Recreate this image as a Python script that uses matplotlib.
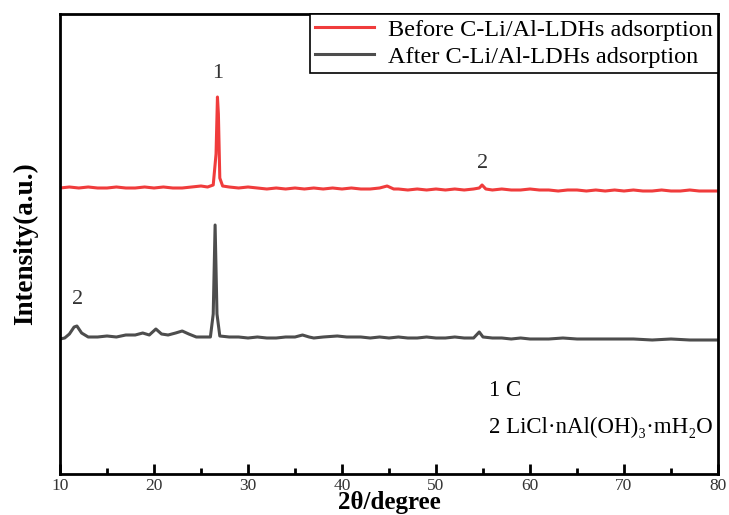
import matplotlib.pyplot as plt
from matplotlib.ticker import MultipleLocator

plt.rcParams['font.family'] = ['Liberation Serif', 'DejaVu Serif']
plt.rcParams['mathtext.fontset'] = 'stix'

# before adsorption (red), intensity in arbitrary units
before_x = [10, 11, 12, 13, 14, 15, 16, 17, 18, 19, 20, 21, 22, 23, 24, 25, 25.7, 26.3, 26.6,
            26.75, 26.85, 27.0, 27.3, 28, 29, 30, 31, 32, 33, 34, 35, 36, 37, 38, 39, 40, 41,
            42, 43, 44, 44.8, 45.5, 46, 47, 48, 49, 50, 51, 52, 53, 54, 54.6, 54.9, 55.3, 56,
            57, 58, 59, 60, 61, 62, 63, 64, 65, 66, 67, 68, 69, 70, 71, 72, 73, 74, 75, 76,
            77, 78, 79, 80]
before_y = [286, 287, 286, 287, 286, 286, 287, 286, 286, 287, 286, 287, 286, 286, 287, 288, 287,
            289, 320, 377, 360, 296, 288, 287, 286, 287, 286, 285, 286, 285, 286, 285, 286, 285,
            286, 285, 286, 285, 285, 286, 288, 285, 285, 284, 285, 284, 285, 284, 285, 284, 285,
            286, 289, 285, 284, 285, 284, 284, 285, 284, 284, 283, 284, 284, 283, 284, 283, 284,
            283, 284, 283, 283, 284, 283, 283, 284, 283, 283, 283]

# after adsorption (dark grey)
after_x = [10, 10.5, 11, 11.5, 11.8, 12.3, 13, 14, 15, 16, 17, 18, 18.8, 19.5, 20.2, 20.8, 21.5,
           22.3, 23.0, 23.7, 24.5, 25.3, 26.0, 26.3, 26.5, 26.7, 27.0, 28, 29, 30, 31, 32, 33,
           34, 35, 35.8, 36.5, 37, 38, 39.5, 40.5, 42, 43, 44, 45, 46, 47, 48, 49, 50, 51, 52,
           53, 54, 54.6, 55.0, 56, 57, 58, 59, 60, 62, 63.5, 65, 67, 69, 71, 73, 75, 77, 80]
after_y = [135, 136, 140, 147, 148, 141, 137, 137, 138, 137, 139, 139, 141, 139, 145, 140, 139,
           141, 143, 140, 137, 137, 137, 160, 249, 160, 138, 137, 137, 136, 137, 136, 136, 137,
           137, 139, 137, 136, 137, 138, 137, 137, 136, 137, 136, 137, 136, 136, 137, 136, 136,
           137, 136, 136, 142, 137, 136, 136, 135, 136, 135, 135, 136, 135, 135, 135, 135, 134,
           135, 134, 134]

fig = plt.figure(figsize=(7.29, 5.15), dpi=100)
ax = fig.add_axes([60 / 729, 1 - 474 / 515, 658 / 729, 460 / 515])

ax.plot(before_x, before_y, color='#f03c3c', lw=2.2, label='Before C-Li/Al-LDHs adsorption')
ax.plot(after_x, after_y, color='#4d4d4d', lw=2.2, label='After C-Li/Al-LDHs adsorption')

ax.set_xlim(10, 80)
ax.set_ylim(0, 460)
ax.set_yticks([])
ax.xaxis.set_major_locator(MultipleLocator(10))
ax.xaxis.set_minor_locator(MultipleLocator(5))
ax.tick_params(axis='x', which='major', direction='in', length=7, width=2, labelsize=12.5,
               labelcolor='#333333', pad=3)
ax.tick_params(axis='x', which='minor', direction='in', length=4, width=2)
for s in ax.spines.values():
    s.set_linewidth(2)

ax.set_xlabel('2θ/degree', fontsize=18, fontweight='bold', labelpad=-2)
ax.set_ylabel('Intensity(a.u.)', fontsize=19.5, fontweight='bold', labelpad=16)

ax.text(26.8, 400, '1', fontsize=16, ha='center', va='center', color='#333333')
ax.text(55.0, 311, '2', fontsize=16, ha='center', va='center', color='#333333')
ax.text(11.9, 174, '2', fontsize=16, ha='center', va='center', color='#333333')
ax.text(55.6, 84, '1 C', fontsize=16.5, ha='left', va='center')
ax.text(55.6, 47, '2 LiCl·nAl(OH)₃·mH₂O', fontsize=16.5, ha='left', va='center')

leg = ax.legend(loc='upper right', fontsize=17.5, fancybox=False, framealpha=1,
                edgecolor='black', borderaxespad=0, handlelength=2.4, handletextpad=0.6,
                borderpad=0.2, labelspacing=0.2)
leg.get_frame().set_linewidth(1.2)

fig.savefig('out.png', dpi=100)
